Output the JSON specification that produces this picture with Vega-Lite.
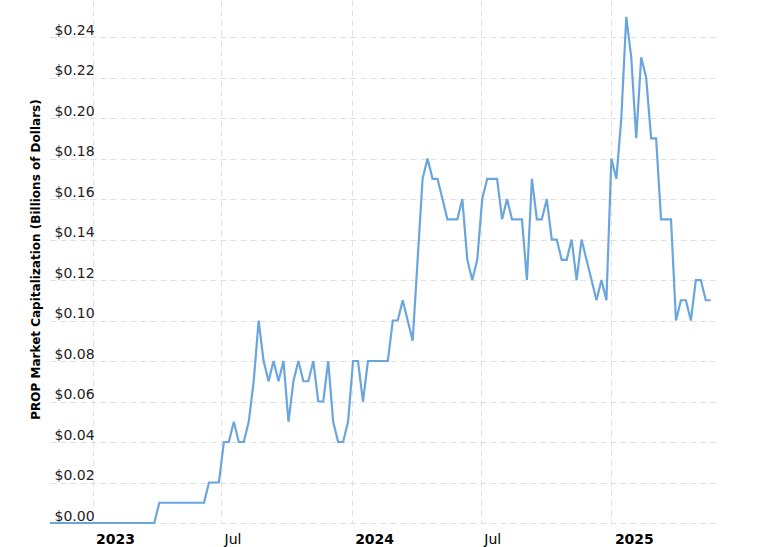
{
  "$schema": "https://vega.github.io/schema/vega-lite/v6.json",
  "width": 665,
  "height": 523,
  "autosize": {"type": "none"},
  "padding": {"left": 50, "top": 0, "right": 55, "bottom": 24},
  "background": "white",
  "config": {
    "view": {"stroke": null},
    "font": "DejaVu Sans"
  },
  "data": {
    "values": [
      {"date": "2022-11-02", "cap": 0}, {"date": "2022-11-09", "cap": 0}, {"date": "2022-11-16", "cap": 0}, {"date": "2022-11-23", "cap": 0},
      {"date": "2022-11-30", "cap": 0}, {"date": "2022-12-07", "cap": 0}, {"date": "2022-12-14", "cap": 0}, {"date": "2022-12-21", "cap": 0},
      {"date": "2022-12-28", "cap": 0}, {"date": "2023-01-04", "cap": 0}, {"date": "2023-01-11", "cap": 0}, {"date": "2023-01-18", "cap": 0},
      {"date": "2023-01-25", "cap": 0}, {"date": "2023-02-01", "cap": 0}, {"date": "2023-02-08", "cap": 0}, {"date": "2023-02-15", "cap": 0},
      {"date": "2023-02-22", "cap": 0}, {"date": "2023-03-01", "cap": 0}, {"date": "2023-03-08", "cap": 0}, {"date": "2023-03-15", "cap": 0},
      {"date": "2023-03-22", "cap": 0}, {"date": "2023-03-29", "cap": 0}, {"date": "2023-04-05", "cap": 0.01}, {"date": "2023-04-12", "cap": 0.01},
      {"date": "2023-04-19", "cap": 0.01}, {"date": "2023-04-26", "cap": 0.01}, {"date": "2023-05-03", "cap": 0.01}, {"date": "2023-05-10", "cap": 0.01},
      {"date": "2023-05-17", "cap": 0.01}, {"date": "2023-05-24", "cap": 0.01}, {"date": "2023-05-31", "cap": 0.01}, {"date": "2023-06-07", "cap": 0.01},
      {"date": "2023-06-14", "cap": 0.02}, {"date": "2023-06-21", "cap": 0.02}, {"date": "2023-06-28", "cap": 0.02}, {"date": "2023-07-05", "cap": 0.04},
      {"date": "2023-07-12", "cap": 0.04}, {"date": "2023-07-19", "cap": 0.05}, {"date": "2023-07-26", "cap": 0.04}, {"date": "2023-08-02", "cap": 0.04},
      {"date": "2023-08-09", "cap": 0.05}, {"date": "2023-08-16", "cap": 0.07}, {"date": "2023-08-23", "cap": 0.10}, {"date": "2023-08-30", "cap": 0.08},
      {"date": "2023-09-06", "cap": 0.07}, {"date": "2023-09-13", "cap": 0.08}, {"date": "2023-09-20", "cap": 0.07}, {"date": "2023-09-27", "cap": 0.08},
      {"date": "2023-10-04", "cap": 0.05}, {"date": "2023-10-11", "cap": 0.07}, {"date": "2023-10-18", "cap": 0.08}, {"date": "2023-10-25", "cap": 0.07},
      {"date": "2023-11-01", "cap": 0.07}, {"date": "2023-11-08", "cap": 0.08}, {"date": "2023-11-15", "cap": 0.06}, {"date": "2023-11-22", "cap": 0.06},
      {"date": "2023-11-29", "cap": 0.08}, {"date": "2023-12-06", "cap": 0.05}, {"date": "2023-12-13", "cap": 0.04}, {"date": "2023-12-20", "cap": 0.04},
      {"date": "2023-12-27", "cap": 0.05}, {"date": "2024-01-03", "cap": 0.08}, {"date": "2024-01-10", "cap": 0.08}, {"date": "2024-01-17", "cap": 0.06},
      {"date": "2024-01-24", "cap": 0.08}, {"date": "2024-01-31", "cap": 0.08}, {"date": "2024-02-07", "cap": 0.08}, {"date": "2024-02-14", "cap": 0.08},
      {"date": "2024-02-21", "cap": 0.08}, {"date": "2024-02-28", "cap": 0.10}, {"date": "2024-03-06", "cap": 0.10}, {"date": "2024-03-13", "cap": 0.11},
      {"date": "2024-03-20", "cap": 0.10}, {"date": "2024-03-27", "cap": 0.09}, {"date": "2024-04-03", "cap": 0.13}, {"date": "2024-04-10", "cap": 0.17},
      {"date": "2024-04-17", "cap": 0.18}, {"date": "2024-04-24", "cap": 0.17}, {"date": "2024-05-01", "cap": 0.17}, {"date": "2024-05-08", "cap": 0.16},
      {"date": "2024-05-15", "cap": 0.15}, {"date": "2024-05-22", "cap": 0.15}, {"date": "2024-05-29", "cap": 0.15}, {"date": "2024-06-05", "cap": 0.16},
      {"date": "2024-06-12", "cap": 0.13}, {"date": "2024-06-19", "cap": 0.12}, {"date": "2024-06-26", "cap": 0.13}, {"date": "2024-07-03", "cap": 0.16},
      {"date": "2024-07-10", "cap": 0.17}, {"date": "2024-07-17", "cap": 0.17}, {"date": "2024-07-24", "cap": 0.17}, {"date": "2024-07-31", "cap": 0.15},
      {"date": "2024-08-07", "cap": 0.16}, {"date": "2024-08-14", "cap": 0.15}, {"date": "2024-08-21", "cap": 0.15}, {"date": "2024-08-28", "cap": 0.15},
      {"date": "2024-09-04", "cap": 0.12}, {"date": "2024-09-11", "cap": 0.17}, {"date": "2024-09-18", "cap": 0.15}, {"date": "2024-09-25", "cap": 0.15},
      {"date": "2024-10-02", "cap": 0.16}, {"date": "2024-10-09", "cap": 0.14}, {"date": "2024-10-16", "cap": 0.14}, {"date": "2024-10-23", "cap": 0.13},
      {"date": "2024-10-30", "cap": 0.13}, {"date": "2024-11-06", "cap": 0.14}, {"date": "2024-11-13", "cap": 0.12}, {"date": "2024-11-20", "cap": 0.14},
      {"date": "2024-11-27", "cap": 0.13}, {"date": "2024-12-04", "cap": 0.12}, {"date": "2024-12-11", "cap": 0.11}, {"date": "2024-12-18", "cap": 0.12},
      {"date": "2024-12-25", "cap": 0.11}, {"date": "2025-01-01", "cap": 0.18}, {"date": "2025-01-08", "cap": 0.17}, {"date": "2025-01-15", "cap": 0.20},
      {"date": "2025-01-22", "cap": 0.25}, {"date": "2025-01-29", "cap": 0.23}, {"date": "2025-02-05", "cap": 0.19}, {"date": "2025-02-12", "cap": 0.23},
      {"date": "2025-02-19", "cap": 0.22}, {"date": "2025-02-26", "cap": 0.19}, {"date": "2025-03-05", "cap": 0.19}, {"date": "2025-03-12", "cap": 0.15},
      {"date": "2025-03-19", "cap": 0.15}, {"date": "2025-03-26", "cap": 0.15}, {"date": "2025-04-02", "cap": 0.10}, {"date": "2025-04-09", "cap": 0.11},
      {"date": "2025-04-16", "cap": 0.11}, {"date": "2025-04-23", "cap": 0.10}, {"date": "2025-04-30", "cap": 0.12}, {"date": "2025-05-07", "cap": 0.12},
      {"date": "2025-05-14", "cap": 0.11}, {"date": "2025-05-21", "cap": 0.11}
    ]
  },
  "mark": {"type": "line", "color": "#6aa6de", "strokeWidth": 2.2, "interpolate": "linear"},
  "encoding": {
    "x": {
      "field": "date",
      "type": "temporal",
      "scale": {"type": "utc", "domain": [{"year": 2022, "month": 11, "date": 2, "utc": true}, {"year": 2025, "month": 5, "date": 27, "utc": true}], "nice": false},
      "axis": {
        "title": null,
        "values": [
          {"year": 2023, "month": 1, "date": 1, "utc": true},
          {"year": 2023, "month": 7, "date": 1, "utc": true},
          {"year": 2024, "month": 1, "date": 1, "utc": true},
          {"year": 2024, "month": 7, "date": 1, "utc": true},
          {"year": 2025, "month": 1, "date": 1, "utc": true}
        ],
        "labelExpr": "utcFormat(datum.value, '%m') == '01' ? utcFormat(datum.value, '%Y') : 'Jul'",
        "labelFontWeight": {"condition": {"test": "utcFormat(datum.value, '%m') == '01'", "value": "bold"}, "value": "normal"},
        "labelFontSize": 14,
        "labelColor": "#000000",
        "labelAlign": "left",
        "labelOffset": 3,
        "labelPadding": 9,
        "labelFlush": false,
        "labelOverlap": false,
        "ticks": false,
        "domain": false,
        "grid": true,
        "gridColor": "#e0e0e0",
        "gridDash": [6, 4],
        "gridWidth": 1
      }
    },
    "y": {
      "field": "cap",
      "type": "quantitative",
      "scale": {"domain": [0, 0.2583], "nice": false, "zero": true},
      "axis": {
        "title": "PROP Market Capitalization (Billions of Dollars)",
        "titleFontSize": 12,
        "titleFontWeight": "bold",
        "titleColor": "#000000",
        "titleX": -15,
        "titleY": 259,
        "titleAngle": -90,
        "titleAlign": "center",
        "titleBaseline": "middle",
        "values": [0, 0.02, 0.04, 0.06, 0.08, 0.1, 0.12, 0.14, 0.16, 0.18, 0.2, 0.22, 0.24],
        "format": "$.2f",
        "labelFontSize": 14,
        "labelColor": "#222222",
        "labelAlign": "left",
        "labelBaseline": "alphabetic",
        "labelPadding": -4,
        "labelOffset": -3,
        "labelBound": false,
        "labelFlush": false,
        "labelOverlap": false,
        "ticks": false,
        "domain": false,
        "grid": true,
        "gridColor": "#e0e0e0",
        "gridDash": [6, 4],
        "gridWidth": 1
      }
    }
  }
}
